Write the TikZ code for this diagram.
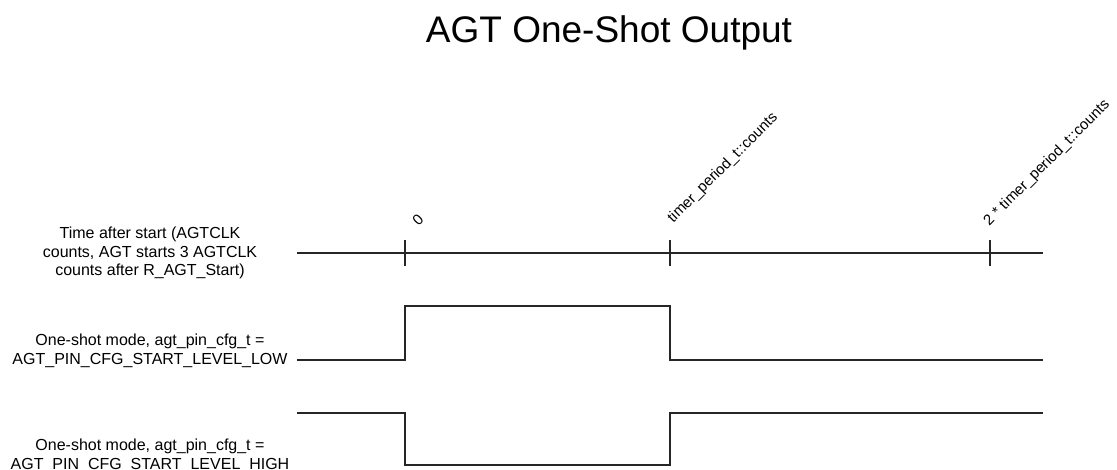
\documentclass[tikz,border=0pt]{standalone}
\usepackage{fontspec}
\setmainfont{Liberation Sans}
\begin{document}
\begin{tikzpicture}[x=1pt,y=-1pt,
  sig/.style={draw=black!85,line width=1.4pt,line join=miter},
  lbl/.style={font=\fontsize{16}{18.5}\selectfont,align=center,inner sep=0pt},
  ticklbl/.style={font=\fontsize{15}{17}\selectfont,rotate=45,inner sep=0pt,anchor=center}]
\useasboundingbox (0,0) rectangle (1117,470);
\fill[white] (0,0) rectangle (1117,470);
% title
\node[font=\fontsize{37}{40}\selectfont,anchor=base,inner sep=0pt] (title) at (609,43) {AGT One-Shot Output};
% labels
\node[lbl] (l1) at (150,253) {Time after start (AGTCLK\\counts, AGT starts 3 AGTCLK\\counts after R\_AGT\_Start)};
\node[lbl] (l2) at (150,351) {One-shot mode, agt\_pin\_cfg\_t =\\AGT\_PIN\_CFG\_START\_LEVEL\_LOW};
\node[lbl] (l3) at (150,456) {One-shot mode, agt\_pin\_cfg\_t =\\AGT\_PIN\_CFG\_START\_LEVEL\_HIGH};
% axis
\coordinate (a0) at (297,253);
\coordinate (a1) at (1043,253);
\draw[sig] (a0) -- (a1);
\foreach \x/\n in {405/t0,670/t1,990/t2}{
  \coordinate (\n) at (\x,253);
  \draw[sig] ([yshift=-13pt]\n) -- ([yshift=13pt]\n);
}
\node[ticklbl] (n0) at (418,220) {0};
\node[ticklbl] (n1) at (723,168) {timer\_period\_t::counts};
\node[ticklbl] (n2) at (1047,163) {2 * timer\_period\_t::counts};
% signal low start
\draw[sig] (297,360) -- (405,360) -- (405,306) -- (670,306) -- (670,360) -- (1043,360);
% signal high start
\draw[sig] (297,413) -- (405,413) -- (405,465) -- (670,465) -- (670,413) -- (1043,413);
\end{tikzpicture}
\end{document}
